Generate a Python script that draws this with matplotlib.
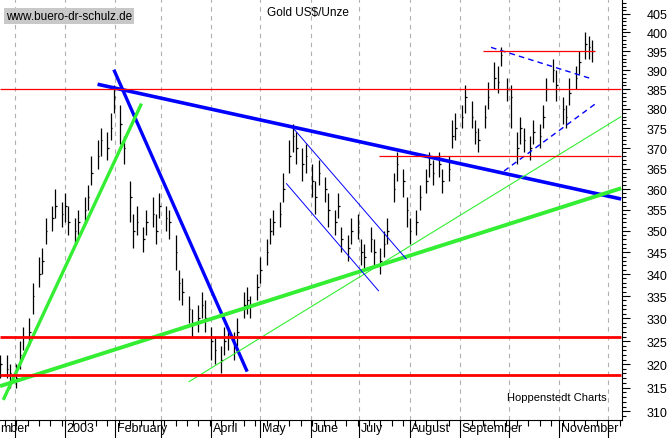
import matplotlib
matplotlib.use("Agg")
import matplotlib.pyplot as plt
import matplotlib.dates as mdates
import matplotlib.ticker as mticker
import numpy as np
import pandas as pd

# gold price, one bar every second trading day
dates = pd.bdate_range("2002-11-22", "2003-11-24")[::2]
closes = [320, 319, 318, 317, 322, 326, 327, 335, 340, 343,
          350, 353, 356, 354, 356, 352, 350, 352, 355, 358,
          364, 368, 372, 370, 375, 383, 376, 370, 358, 350,
          352, 348, 352, 354, 350, 356, 353, 352, 345, 338,
          336, 332, 329, 330, 333, 330, 325, 323, 321, 325,
          326, 324, 327, 333, 334, 333, 337, 341, 345, 350,
          352, 354, 360, 368, 373, 370, 366, 368, 362, 358,
          364, 360, 355, 352, 356, 348, 346, 350, 351, 345,
          344, 348, 345, 343, 347, 350, 360, 366, 362, 355,
          350, 352, 358, 362, 366, 364, 366, 362, 365, 373,
          375, 378, 383, 378, 374, 372, 378, 383, 388, 387,
          394, 385, 383, 370, 375, 372, 370, 374, 373, 378,
          385, 390, 386, 380, 378, 384, 388, 392, 397, 396,
          395]
up = [2, 3, 2, 3, 3, 2, 3, 3, 4, 3, 3, 3, 4, 3, 3, 4, 3, 3, 3, 3,
      4, 4, 3, 4, 4, 3, 5, 3, 4, 4, 4, 3, 3, 4, 4, 3, 3, 3, 4, 3,
      3, 3, 3, 3, 3, 4, 3, 3, 3, 3, 2, 3, 3, 3, 3, 2, 3, 3, 3, 3,
      3, 3, 4, 4, 3, 4, 4, 3, 4, 4, 3, 3, 4, 3, 3, 3, 3, 3, 3, 3,
      3, 3, 3, 3, 3, 3, 4, 3, 3, 3, 3, 3, 3, 3, 3, 3, 3, 3, 3, 4,
      4, 3, 3, 4, 3, 3, 3, 4, 4, 4, 2, 3, 3, 4, 3, 3, 3, 3, 3, 3,
      3, 3, 4, 3, 3, 4, 3, 3, 3, 3, 3]
down = [3, 2, 3, 2, 3, 3, 3, 4, 3, 3, 3, 3, 3, 3, 4, 3, 3, 3, 3, 3,
        3, 3, 4, 3, 3, 4, 5, 4, 6, 4, 3, 3, 3, 3, 3, 3, 3, 4, 4, 4,
        3, 3, 3, 3, 3, 3, 4, 3, 3, 3, 3, 3, 3, 3, 3, 3, 3, 3, 3, 3,
        3, 3, 3, 4, 4, 4, 4, 4, 4, 4, 3, 3, 4, 3, 3, 3, 3, 3, 3, 3,
        3, 3, 3, 3, 3, 3, 3, 4, 4, 4, 3, 3, 3, 3, 3, 3, 3, 3, 3, 3,
        3, 3, 4, 3, 3, 3, 3, 3, 3, 3, 3, 3, 8, 4, 4, 3, 3, 3, 3, 3,
        3, 3, 4, 4, 3, 3, 3, 3, 4, 3, 3]

# trend lines: (start date, start value, end date, end value, colour, width, style)
trendlines = [
    ("2003-01-21", 386.3, "2003-12-09", 357.6, "#0000ff", 2.6, "-"),
    ("2003-01-31", 390.1, "2003-04-23", 318.4, "#0000ff", 2.4, "-"),
    ("2002-11-24", 312.4, "2003-02-17", 381.3, "#33ee33", 2.4, "-"),
    ("2002-11-22", 315.3, "2003-12-09", 360.2, "#33ee33", 2.8, "-"),
    ("2003-03-18", 316.2, "2003-12-09", 378.0, "#33ee33", 0.8, "-"),
    ("2003-05-21", 375.2, "2003-07-30", 343.4, "#0000ff", 0.7, "-"),
    ("2003-05-17", 361.4, "2003-07-13", 336.1, "#0000ff", 0.7, "-"),
    ("2003-09-20", 396.0, "2003-11-21", 387.7, "#0000ff", 1.0, (0, (4, 3))),
    ("2003-09-28", 364.4, "2003-11-23", 381.2, "#0000ff", 1.0, (0, (4, 3))),
    ("2002-11-22", 385.0, "2003-12-09", 385.0, "#ff0000", 0.9, "-"),
    ("2003-09-15", 395.0, "2003-11-23", 395.0, "#ff0000", 0.9, "-"),
    ("2003-07-13", 368.0, "2003-12-09", 368.0, "#ff0000", 0.9, "-"),
    ("2002-11-22", 326.0, "2003-12-09", 326.0, "#ff0000", 2.0, "-"),
    ("2002-11-22", 317.6, "2003-12-09", 317.6, "#ff0000", 2.0, "-"),
]

month_labels = {"2003-01-01": "2003", "2003-02-01": "February", "2003-04-01": "April",
                "2003-05-01": "May", "2003-06-01": "June", "2003-07-01": "July",
                "2003-08-01": "August", "2003-09-01": "September", "2003-11-01": "November"}

n = len(closes)
dates = dates[:n]

fig = plt.figure(figsize=(6.69, 4.39), dpi=100)
ax = fig.add_axes([0.0, 0.041, 0.9297, 0.959])
ax.set_yscale("log")

x = mdates.date2num(dates)
hi = np.array(closes) + np.array(up)
lo = np.array(closes) - np.array(down)
ax.vlines(x, lo, hi, color="black", lw=0.9, zorder=3)
ax.hlines(closes, x, x + 1.0, color="black", lw=0.9, zorder=3)

for d0, v0, d1, v1, c, w, ls in trendlines:
    ax.plot([pd.Timestamp(d0), pd.Timestamp(d1)], [v0, v1], color=c, lw=w, ls=ls,
            zorder=4, solid_capstyle="butt")

ax.set_xlim(pd.Timestamp("2002-11-22"), pd.Timestamp("2003-12-09 12:00"))
ax.set_ylim(308.2, 409.1)

months = pd.date_range("2002-12-01", "2003-12-01", freq="MS")
for m in months:
    ax.axvline(m, color="#b0b0b0", lw=0.8, ls=(0, (4, 4)), zorder=1)

ax.xaxis.set_major_locator(mdates.MonthLocator())
ax.xaxis.set_minor_locator(mdates.WeekdayLocator(byweekday=0))
ax.xaxis.set_major_formatter(mticker.NullFormatter())
ax.tick_params(axis="x", which="major", direction="out", length=16, width=0.8)
ax.tick_params(axis="x", which="minor", direction="out", length=4, width=0.8)

for d, lab in month_labels.items():
    ax.text(pd.Timestamp(d) + pd.Timedelta(days=1), -0.004, lab, transform=ax.get_xaxis_transform(),
            ha="left", va="top", fontsize=9, family="Liberation Sans")
ax.text(0.0, -0.004, "mber", transform=ax.transAxes, ha="left", va="top",
        fontsize=9, family="Liberation Sans")

ax.yaxis.tick_right()
ax.yaxis.set_major_locator(mticker.FixedLocator(np.arange(310, 406, 5)))
ax.yaxis.set_minor_locator(mticker.FixedLocator(np.arange(309, 409, 1)))
ax.yaxis.set_major_formatter(mticker.FormatStrFormatter("%d"))
ax.yaxis.set_minor_formatter(mticker.NullFormatter())
ax.tick_params(axis="y", which="major", direction="out", length=6, width=0.8,
               labelsize=9, pad=12)
ax.tick_params(axis="y", which="minor", direction="out", length=3, width=0.8)
for t in ax.get_yticklabels():
    t.set_family("Liberation Sans")

for s in ["top", "left"]:
    ax.spines[s].set_visible(False)

ax.text(6, 439 - 17, "www.buero-dr-schulz.de", transform=None, fontsize=8.5, family="Liberation Sans",
        bbox=dict(facecolor="#c8c8c8", edgecolor="none", pad=1.5), va="center", ha="left")
ax.text(0.495, 0.97, "Gold US$/Unze", transform=ax.transAxes, ha="center", va="center",
        fontsize=8.5, family="Liberation Sans")
ax.text(0.975, 0.055, "Hoppenstedt Charts", transform=ax.transAxes, ha="right", va="center",
        fontsize=8, family="Liberation Sans")

fig.savefig("out.png", dpi=100)
